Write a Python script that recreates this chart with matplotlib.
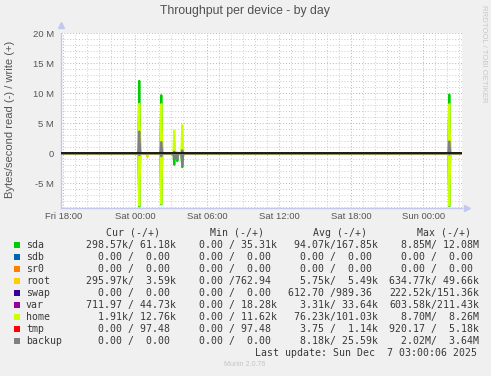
import numpy as np
import matplotlib
matplotlib.use("Agg")
import matplotlib.pyplot as plt
from matplotlib.patches import Rectangle

W, H = 491, 376

# devices, colours and legend numbers (read / write)
devices = ['sda', 'sdb', 'sr0', 'root', 'swap', 'var', 'home', 'tmp', 'backup']
colors = ['#00CC00', '#0066B3', '#FF8000', '#FFCC00', '#330099',
          '#990099', '#CCFF00', '#FF0000', '#808080']
cur_vals = ['298.57k/ 61.18k', '  0.00 /  0.00', '  0.00 /  0.00', '295.97k/  3.59k',
            '  0.00 /  0.00', '711.97 / 44.73k', '  1.91k/ 12.76k', '  0.00 / 97.48',
            '  0.00 /  0.00']
min_vals = ['  0.00 / 35.31k', '  0.00 /  0.00', '  0.00 /  0.00', '  0.00 /762.94',
            '  0.00 /  0.00', '  0.00 / 18.28k', '  0.00 / 11.62k', '  0.00 / 97.48',
            '  0.00 /  0.00']
avg_vals = [' 94.07k/167.85k', '  0.00 /  0.00', '  0.00 /  0.00', '  5.75k/  5.49k',
            '612.70 /989.36', '  3.31k/ 33.64k', ' 76.23k/101.03k', '  3.75 /  1.14k',
            '  8.18k/ 25.59k']
max_vals = ['  8.85M/ 12.08M', '  0.00 /  0.00', '  0.00 /  0.00', '634.77k/ 49.66k',
            '222.52k/151.36k', '603.58k/211.43k', '  8.70M/  8.26M', '920.17 /  5.18k',
            '  2.02M/  3.64M']

# x ticks, hours after Fri 18:00
tick_hours = [0, 6, 12, 18, 24, 30]
tick_labels = ['Fri 18:00', 'Sat 00:00', 'Sat 06:00', 'Sat 12:00', 'Sat 18:00', 'Sun 00:00']
ytick_vals = [-5, 0, 5, 10, 15, 20]
ytick_labels = ['-5 M', '0', '5 M', '10 M', '15 M', '20 M']

# activity bursts (hours after Fri 18:00), values in MB/s
spike_hours = [6.33, 7.0, 8.2, 9.25, 9.5, 9.95, 32.14]
sda_write = [12.08, 0.0, 9.7, 0.5, 0.0, 1.0, 9.8]
sda_read = [8.85, 0.0, 8.5, 1.9, 1.3, 2.3, 8.8]
root_read = [0.0, 0.6, 0.0, 0.0, 0.0, 0.0, 0.0]
var_write = [0.0, 0.0, 0.0, 0.2, 0.0, 0.1, 0.0]
var_read = [0.0, 0.0, 0.0, 0.4, 0.3, 0.2, 0.0]
home_write = [8.26, 0.0, 8.2, 3.8, 0.2, 4.7, 8.2]
home_read = [8.70, 0.0, 8.4, 0.3, 0.5, 0.8, 8.7]
backup_write = [3.64, 0.0, 1.9, 0.3, 0.0, 0.5, 2.0]
backup_read = [0.3, 0.0, 0.5, 0.8, 1.0, 2.02, 0.2]

write_data = {'sda': sda_write, 'var': var_write, 'home': home_write, 'backup': backup_write}
read_data = {'sda': sda_read, 'root': root_read, 'var': var_read,
             'home': home_read, 'backup': backup_read}

# 5 minute samples
t = np.arange(-2, 399) / 12.0


def series(vals):
    s = np.zeros_like(t)
    for h, v in zip(spike_hours, vals):
        s[int(round(h * 12)) + 2] = v
    return s


def fx(x):
    return x / W


def fy(y):
    return 1 - y / H


fig = plt.figure(figsize=(W / 100, H / 100), dpi=100, facecolor='#F0F0F0')
ax = fig.add_axes([fx(61), fy(208.3), (461.7 - 61) / W, (208.3 - 33.3) / H])
ax.set_facecolor('white')

ax.set_xlim(-0.19, 33.2)
ax.set_ylim(-9.15, 20)

# grid
for h in np.arange(0, 34):
    major = h % 6 == 0
    ax.axvline(h, color='#e8a0a0' if major else '#cccccc', lw=0.7,
               ls=(0, (1, 2)), zorder=1)
for v in np.arange(-9, 21):
    major = v % 5 == 0
    ax.axhline(v, color='#e8a0a0' if major else '#cccccc', lw=0.7,
               ls=(0, (1, 2)), zorder=1)

for dev, col in zip(devices, colors):
    if dev in read_data:
        ax.plot(t, -series(read_data[dev]), color=col, lw=1.5, zorder=3)
    if dev in write_data:
        ax.plot(t, series(write_data[dev]), color=col, lw=1.5, zorder=3)
ax.axhline(0, color='black', lw=1.1, zorder=4)

ax.set_xticks(tick_hours)
ax.set_xticklabels(tick_labels)
ax.set_yticks(ytick_vals)
ax.set_yticklabels(ytick_labels)
ax.tick_params(length=0, labelsize=6.8, colors='#555555', labelcolor='#555555')
ax.tick_params(axis='x', pad=2.5)
ax.tick_params(axis='y', pad=5)
for lab in ax.get_xticklabels() + ax.get_yticklabels():
    lab.set_family('Liberation Sans')

for s in ['top', 'right']:
    ax.spines[s].set_visible(False)
for s in ['left', 'bottom']:
    ax.spines[s].set_color('#c4c8ee')
    ax.spines[s].set_linewidth(1.0)
ax.plot([0], [1.045], marker='^', ms=4, color='#c4c8ee', transform=ax.transAxes, clip_on=False)
ax.plot([1.012], [0], marker='>', ms=4, color='#c4c8ee', transform=ax.transAxes, clip_on=False)

# texts
fig.text(fx(245), fy(11), 'Throughput per device - by day', ha='center', va='center',
         fontsize=8.8, color='#505050', family='Liberation Sans')
fig.text(fx(10), fy(119), 'Bytes/second read (-) / write (+)', ha='center', va='center',
         rotation=90, fontsize=8, color='#555555', family='Liberation Sans')
fig.text(fx(484), fy(54), 'RRDTOOL / TOBI OETIKER', ha='center', va='center',
         rotation=270, fontsize=5.6, color='#c8c8c8', family='Liberation Sans')

mono = dict(family='DejaVu Sans Mono', fontsize=7.1, color='#383838', va='center')
for x, head in zip([106, 210, 313.3, 416.7], ['Cur (-/+)', 'Min (-/+)', 'Avg (-/+)', 'Max (-/+)']):
    fig.text(fx(x), fy(232.5), head, **mono)

cw = 5.95
for i, dev in enumerate(devices):
    y = 244.7 + 12 * i
    fig.patches.append(Rectangle((fx(14), fy(y + 3)), 6 / W, 6 / H, transform=fig.transFigure,
                                 facecolor=colors[i], edgecolor='none'))
    fig.text(fx(26), fy(y), dev, **mono)
    for col, vals in zip([10, 27, 44, 61], [cur_vals, min_vals, avg_vals, max_vals]):
        fig.text(fx(26 + col * cw), fy(y), vals[i], **mono)

fig.text(fx(255.3), fy(352.5), 'Last update: Sun Dec  7 03:00:06 2025', **mono)
fig.text(fx(245), fy(364.5), 'Munin 2.0.76', ha='center', va='center',
         fontsize=5, color='#c4c4c4', family='Liberation Sans')

fig.savefig('out.png', dpi=100, facecolor=fig.get_facecolor())
